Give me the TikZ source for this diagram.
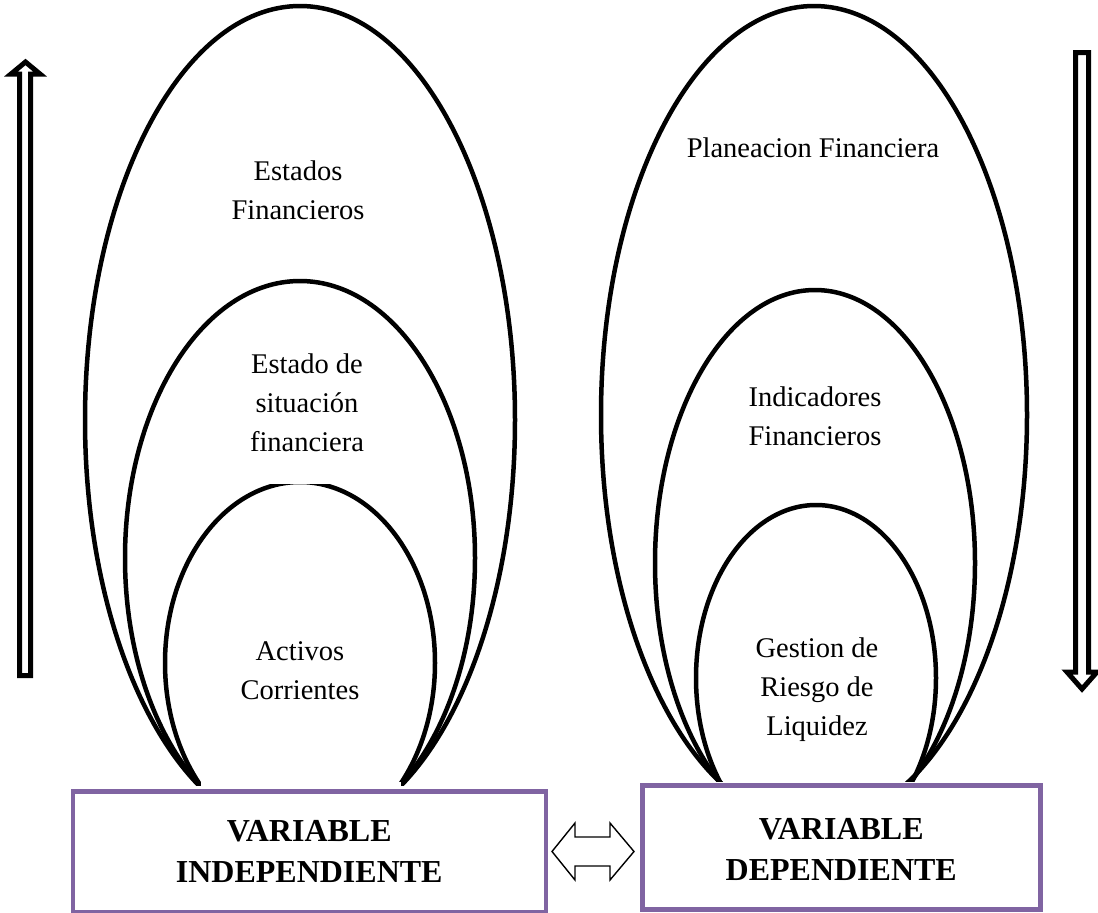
\documentclass[tikz,border=0pt]{standalone}
\usepackage{fontspec}
\setmainfont{Liberation Serif}
\definecolor{boxpurple}{HTML}{8064A2}
\tikzset{
  oval/.style={draw=black, line width=4.5pt},
  varbox/.style={draw=boxpurple, line width=4.5pt, fill=white},
  label/.style={align=center, font=\fontsize{28.5}{39}\selectfont, inner sep=0pt},
  boxtext/.style={align=center, font=\fontsize{32}{41}\selectfont\bfseries, inner sep=0pt},
  blockarrow/.style={draw=black, line width=5pt, fill=white, line join=miter},
  twoway/.style={draw=black, line width=1.4pt, fill=white, line join=miter}
}
\begin{document}
\begin{tikzpicture}[x=1pt, y=-1pt]
\useasboundingbox (0,0) rectangle (1098,913);

% left family of nested ovals
\begin{scope}
  \clip (0,0) rectangle (560,785);
  \draw[oval] (300,420) ellipse [x radius=215pt, y radius=414pt];
  \draw[oval] (300,558) ellipse [x radius=175pt, y radius=277pt];
  \begin{scope}
    \clip (0,484.5) rectangle (560,785);
    \draw[oval] (300,663) ellipse [x radius=135pt, y radius=181pt];
  \end{scope}
\end{scope}

% right family of nested ovals
\begin{scope}
  \clip (580,0) rectangle (1060,781);
  \draw[oval] (814,415) ellipse [x radius=213pt, y radius=409pt];
  \draw[oval] (815,563) ellipse [x radius=160pt, y radius=273pt];
  \draw[oval] (816,678) ellipse [x radius=120pt, y radius=173pt];
\end{scope}

% labels inside the ovals
\node[label] (estados) at (298,190) {Estados\\Financieros};
\node[label] (situacion) at (307,403) {Estado de\\situación\\financiera};
\node[label] (activos) at (300,671) {Activos\\Corrientes};
\node[label] (planeacion) at (813,148) {Planeacion Financiera};
\node[label] (indicadores) at (815,416) {Indicadores\\Financieros};
\node[label] (gestion) at (817,690) {Gestion de\\Riesgo de\\Liquidez};

% variable boxes
\node[varbox, minimum width=473pt, minimum height=121pt, anchor=north west] (indep) at (70.5,789) {};
\node[boxtext] at (indep.center) {VARIABLE\\INDEPENDIENTE};
\fill[white] (201,782) rectangle (401,788.5);

\node[varbox, minimum width=398pt, minimum height=124pt, anchor=north west] (dep) at (640,783) {};
\node[boxtext] at ([yshift=-2pt]dep.center) {VARIABLE\\DEPENDIENTE};

% two-way arrow between the boxes
\draw[twoway] (552,851.5) -- (575,823) -- (575,837) -- (610,837) -- (610,823)
  -- (634,851.5) -- (610,880) -- (610,866) -- (575,866) -- (575,880) -- cycle;

% upward arrow on the left
\draw[blockarrow] (19.5,675.5) -- (19.5,74) -- (11,74) -- (25.5,62) -- (40,74)
  -- (30.5,74) -- (30.5,675.5) -- cycle;

% downward arrow on the right
\draw[blockarrow] (1075.5,52.5) -- (1075.5,672) -- (1067,672) -- (1082,689)
  -- (1097,672) -- (1088.5,672) -- (1088.5,52.5) -- cycle;
\end{tikzpicture}
\end{document}
